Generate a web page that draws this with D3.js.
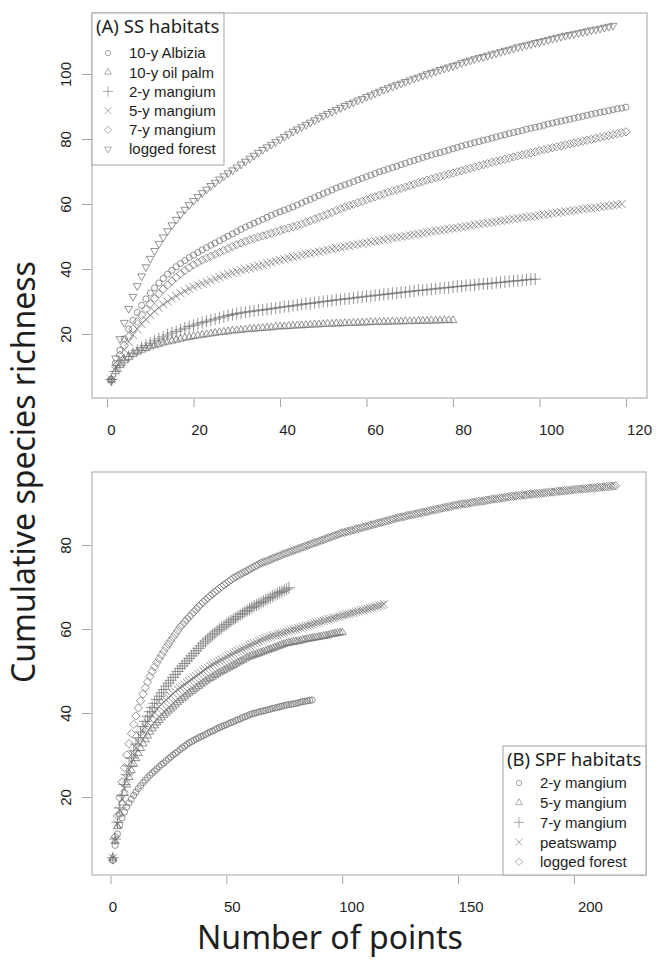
<!DOCTYPE html>
<html>
<head>
<meta charset="utf-8">
<script src="https://cdn.jsdelivr.net/npm/d3@7"></script>
<style>
body { margin: 0; background: #fff; }
</style>
</head>
<body>
<svg id="chart" width="664" height="960"></svg>
<script>
// (A) SS habitats - cumulative species richness, one value per point (x = 1, 2, 3 ...)
var ssLabels = ["10-y Albizia", "10-y oil palm", "2-y mangium", "5-y mangium", "7-y mangium", "logged forest"];

var ssAlbizia = [6,11,15,18.5,21.5,24.2,26.6,28.8,30.8,32.6,34.2,35.7,37.1,38.4,39.6,40.7,41.7,42.6,43.5,44.3,
  45.1,45.9,46.6,47.3,48.0,48.7,49.4,50.1,50.8,51.5,
  52.2,52.9,53.5,54.1,54.7,55.3,55.9,56.5,57.1,57.6,58.1,58.6,59.1,
  59.7,60.3,60.9,61.4,62.0,62.6,63.2,63.7,64.3,64.9,
  65.4,65.9,66.4,66.9,67.4,67.9,68.4,68.9,69.4,69.9,
  70.3,70.8,71.2,71.6,72.1,72.5,73.0,73.4,73.8,74.3,
  74.7,75.1,75.5,75.8,76.2,76.6,77.0,77.4,77.8,78.2,
  78.5,78.9,79.2,79.6,79.9,80.3,80.6,81.0,81.3,81.7,
  82.0,82.3,82.6,83.0,83.3,83.6,83.9,84.2,84.6,84.9,
  85.2,85.5,85.8,86.1,86.4,86.7,87.0,87.3,87.6,87.9,
  88.2,88.4,88.7,89.0,89.3,89.5,89.8];

var ssOilPalm = [6,8.5,10.4,11.8,12.9,13.8,14.5,15.1,15.6,16.1,16.5,16.9,17.3,17.6,17.9,18.2,18.5,18.8,19.0,19.3,
  19.5,19.7,19.9,20.1,20.3,20.5,20.6,20.8,21.0,21.1,
  21.2,21.4,21.5,21.6,21.7,21.8,21.9,22.0,22.2,22.3,
  22.3,22.4,22.5,22.6,22.6,22.7,22.8,22.9,22.9,23.0,
  23.1,23.1,23.2,23.2,23.3,23.3,23.4,23.4,23.5,23.5,
  23.6,23.6,23.7,23.7,23.7,23.8,23.8,23.8,23.9,23.9,
  23.9,24.0,24.0,24.0,24.1,24.1,24.1,24.2,24.2,24.2];

var ssMangium2 = [6,8.5,10.4,11.9,13.1,14.1,15.0,15.8,16.5,17.2,17.9,18.5,19.1,19.7,20.3,20.8,21.3,21.8,22.3,22.7,
  23.1,23.5,23.9,24.3,24.6,25.0,25.3,25.7,26.0,26.3,
  26.5,26.7,26.9,27.1,27.3,27.4,27.6,27.8,28.0,28.2,
  28.4,28.5,28.7,28.9,29.1,29.3,29.4,29.6,29.8,30.0,
  30.1,30.3,30.5,30.6,30.8,30.9,31.1,31.3,31.4,31.6,
  31.7,31.9,32.0,32.2,32.3,32.5,32.6,32.8,32.9,33.1,
  33.2,33.4,33.5,33.6,33.8,33.9,34.1,34.2,34.3,34.5,
  34.6,34.7,34.9,35.0,35.1,35.3,35.4,35.5,35.6,35.8,
  35.9,36.0,36.2,36.3,36.4,36.5,36.7,36.8,36.9];

var ssMangium5 = [6,9.5,12.5,15.2,17.6,19.7,21.5,23.1,24.5,25.8,27.0,28.1,29.1,30.0,30.9,31.7,32.5,33.2,33.9,34.5,
  35.0,35.5,36.0,36.5,37.0,37.5,38.0,38.4,38.8,39.2,
  39.6,39.9,40.3,40.6,41.0,41.3,41.7,42.0,42.4,42.7,43.0,43.4,43.7,44.0,44.3,
  44.6,44.8,45.1,45.3,45.6,45.9,46.1,46.4,46.6,46.9,
  47.1,47.4,47.6,47.8,48.1,48.3,48.6,48.8,49.0,49.3,
  49.5,49.7,49.9,50.2,50.4,50.6,50.8,51.0,51.3,51.5,
  51.7,51.9,52.1,52.3,52.5,52.7,52.9,53.1,53.3,53.6,
  53.8,54.0,54.2,54.4,54.6,54.8,55.0,55.2,55.4,55.6,
  55.8,56.0,56.1,56.3,56.5,56.7,56.9,57.1,57.3,57.5,
  57.7,57.8,58.0,58.2,58.4,58.6,58.7,58.9,59.1,59.3,59.4,59.6,59.8,60.0];

var ssMangium7 = [6,10,13.5,16.5,19.2,21.6,23.8,25.8,27.6,29.3,30.9,32.4,33.8,35.1,36.3,37.4,38.5,39.5,40.4,41.3,
  42.0,42.7,43.3,43.9,44.5,45.1,45.7,46.3,46.9,47.5,
  48.0,48.5,49.0,49.4,49.8,50.2,50.6,51.0,51.4,51.8,52.2,52.6,53.0,53.4,53.8,
  54.3,54.8,55.4,55.9,56.4,56.9,57.4,58.0,58.5,59.0,
  59.5,59.9,60.4,60.8,61.3,61.8,62.2,62.7,63.1,63.6,
  64.0,64.4,64.8,65.2,65.6,66.1,66.5,66.9,67.3,67.7,
  68.1,68.4,68.8,69.2,69.5,69.9,70.3,70.6,71.0,71.4,
  71.7,72.1,72.4,72.8,73.1,73.4,73.8,74.1,74.5,74.8,
  75.1,75.4,75.7,76.0,76.4,76.7,77.0,77.3,77.6,77.9,
  78.2,78.5,78.8,79.0,79.3,79.6,79.9,80.2,80.5,80.8,81.0,81.3,81.6,81.9,82.2];

var ssLogged = [5.5,12.5,18.5,23.5,27.8,31.5,34.8,37.8,40.6,43.2,45.6,47.8,49.8,51.7,53.5,55.2,56.8,58.3,59.7,61.0,
  62.2,63.4,64.5,65.6,66.6,67.6,68.6,69.5,70.4,71.3,
  72.2,73.1,74.0,74.9,75.8,76.7,77.5,78.3,79.1,79.9,80.7,81.5,82.3,83.0,83.7,
  84.4,85.1,85.8,86.5,87.2,87.8,88.4,89.0,89.6,90.2,
  90.8,91.3,91.9,92.4,93.0,93.5,94.1,94.6,95.2,95.7,
  96.2,96.7,97.1,97.6,98.1,98.6,99.0,99.5,100.0,100.4,
  100.8,101.3,101.7,102.1,102.5,102.9,103.4,103.8,104.2,104.6,
  105.0,105.3,105.7,106.1,106.4,106.8,107.2,107.5,107.9,108.3,
  108.6,108.9,109.2,109.6,109.9,110.2,110.5,110.9,111.2,111.5,
  111.8,112.1,112.3,112.6,112.9,113.2,113.5,113.7,114.0,114.3,114.6,114.9];

var ssXTicks = [0, 20, 40, 60, 80, 100, 120];
var ssYTicks = [20, 40, 60, 80, 100];

// (B) SPF habitats
var spfLabels = ["2-y mangium", "5-y mangium", "7-y mangium", "peatswamp", "logged forest"];

var spfMangium2 = [5,8.5,11.2,13.3,15.0,16.4,17.6,18.6,19.5,20.4,21.2,22.0,22.7,23.4,24.0,24.6,25.2,25.7,26.2,26.7,
  27.2,27.7,28.1,28.6,29.1,29.5,30.0,30.4,30.8,31.3,31.7,32.1,32.5,32.9,
  33.2,33.5,33.8,34.1,34.4,34.6,34.9,35.2,35.5,35.7,36.0,36.3,36.5,
  36.8,37.0,37.2,37.5,37.7,37.9,38.2,38.4,38.6,38.9,39.1,39.3,39.6,39.8,
  39.9,40.1,40.2,40.4,40.5,40.6,40.8,40.9,41.1,41.2,41.3,41.5,41.6,41.8,41.9,
  42.0,42.1,42.2,42.3,42.4,42.6,42.7,42.8,42.9,43.0,43.1];

var spfMangium5 = [5.5,9.5,13.0,16.0,18.6,20.9,22.9,24.7,26.3,27.8,29.2,30.4,31.6,32.7,33.7,34.6,35.5,36.3,37.0,37.7,
  38.3,38.9,39.5,40.0,40.5,41.0,41.5,42.0,42.5,43.0,
  43.5,43.9,44.4,44.8,45.2,45.6,46.0,46.4,46.8,47.2,47.6,48.0,
  48.3,48.6,49.0,49.3,49.6,49.9,50.2,50.5,50.8,51.1,51.4,51.7,52.0,52.3,52.6,52.9,53.2,
  53.4,53.6,53.8,54.0,54.2,54.4,54.6,54.8,55.0,55.2,55.4,55.6,55.8,56.0,56.2,56.4,56.6,
  56.7,56.8,56.9,57.0,57.1,57.2,57.4,57.5,57.6,57.7,57.8,57.9,58.0,58.1,58.2,58.3,58.4,58.5,58.7,58.8,58.9,59.0,59.1,59.2];

var spfMangium7 = [5.5,10,14,17.4,20.4,23.0,25.3,27.4,29.3,31.0,32.6,34.1,35.5,36.8,38.0,39.2,40.3,41.3,42.3,43.2,
  44.0,44.8,45.6,46.4,47.1,47.8,48.5,49.2,49.9,50.6,
  51.2,51.8,52.4,53.0,53.6,54.2,54.8,55.4,56.0,56.6,
  57.1,57.6,58.1,58.6,59.0,59.5,59.9,60.3,60.7,61.1,
  61.5,61.9,62.3,62.6,63.0,63.4,63.7,64.1,64.4,64.8,
  65.1,65.4,65.7,66.0,66.3,66.6,66.9,67.2,67.5,67.8,
  68.1,68.4,68.7,68.9,69.2,69.5,69.8];

var spfPeat = [5.5,9.8,13.6,16.8,19.6,22.1,24.4,26.5,28.4,30.1,31.7,33.1,34.4,35.6,36.7,37.7,38.6,39.4,40.2,40.9,
  41.5,42.1,42.6,43.1,43.6,44.1,44.6,45.1,45.6,46.0,46.4,46.8,47.2,47.6,
  48.0,48.4,48.8,49.2,49.6,50.0,50.4,50.8,51.2,51.5,51.8,52.1,52.4,52.7,
  53.0,53.3,53.6,53.9,54.2,54.5,54.8,55.0,55.3,55.6,55.8,56.1,56.3,56.6,56.8,57.1,57.3,57.6,57.8,
  58.0,58.2,58.4,58.5,58.7,58.9,59.0,59.2,59.4,59.5,59.7,59.9,60.0,60.2,60.3,60.5,60.7,60.8,61.0,61.1,61.3,61.5,61.6,61.8,61.9,62.1,62.3,62.4,
  62.6,62.7,62.9,63.0,63.2,63.3,63.5,63.6,63.8,63.9,64.1,64.2,64.4,64.5,64.7,64.8,65.0,65.1,65.3,65.4,65.6,65.7,65.9];

var spfLogged = [5,10.5,15.5,19.8,23.6,27.0,30.0,32.7,35.1,37.3,39.3,41.2,42.9,44.5,46.0,47.4,48.7,49.9,51.0,52.0,
  52.9,53.8,54.7,55.6,56.4,57.2,58.0,58.8,59.6,60.4,
  61.0,61.7,62.3,62.9,63.5,64.1,64.7,65.3,65.9,66.4,66.9,67.4,
  67.9,68.3,68.8,69.2,69.7,70.1,70.5,70.9,71.3,71.7,72.1,
  72.4,72.7,73.0,73.3,73.6,73.9,74.2,74.5,74.8,75.1,75.4,75.7,
  75.9,76.1,76.3,76.5,76.8,77.0,77.2,77.4,77.7,77.9,78.1,78.3,78.5,78.7,78.9,
  79.1,79.3,79.5,79.7,79.9,80.1,80.3,80.5,80.7,80.9,81.1,81.3,81.5,81.7,81.9,82.1,82.3,82.5,82.7,82.9,
  83.0,83.2,83.3,83.5,83.6,83.8,83.9,84.1,84.2,84.4,84.5,84.7,84.8,85.0,85.1,85.3,85.4,85.6,85.7,85.9,86.0,86.2,86.3,86.5,86.6,
  86.7,86.8,87.0,87.1,87.2,87.3,87.4,87.6,87.7,87.8,87.9,88.0,88.2,88.3,88.4,88.5,88.6,88.8,88.9,89.0,89.1,89.2,89.4,89.5,89.6,
  89.7,89.8,89.8,89.9,90.0,90.1,90.2,90.3,90.4,90.4,90.5,90.6,90.7,90.8,90.9,91.0,91.0,91.1,91.2,91.3,91.4,91.5,91.6,91.6,91.7,
  91.8,91.8,91.9,91.9,92.0,92.1,92.1,92.2,92.2,92.3,92.3,92.4,92.5,92.5,92.6,92.6,92.7,92.8,92.8,92.9,92.9,93.0,93.0,93.1,93.2,
  93.2,93.3,93.3,93.4,93.4,93.5,93.5,93.6,93.6,93.7,93.7,93.8,93.8,93.9,93.9,94.0,94.0,94.1];

var spfXTicks = [0, 50, 100, 150, 200];
var spfYTicks = [20, 40, 60, 80];

var markColor = "#6f6f6f";
var frameColor = "#a3a3a3";
var textColor = "#1e1e1e";

var svg = d3.select('#chart');

// R style open symbols
var shapeCircle = { type: d3.symbolCircle, size: 30, rot: 0 };
var shapeUp = { type: d3.symbolTriangle2, size: 44, rot: 0 };
var shapeDown = { type: d3.symbolTriangle2, size: 44, rot: 180 };
var shapePlus = { type: d3.symbolPlus, size: 50, rot: 0 };
var shapeTimes = { type: d3.symbolTimes, size: 44, rot: 0 };
var shapeDiamond = { type: d3.symbolDiamond2, size: 44, rot: 0 };

function DrawPanel(box, xDomain, yDomain, series, shapes, xTicks, yTicks, shiftLabel)
{
    var x = d3.scaleLinear().domain(xDomain).range([box.left, box.right]);
    var y = d3.scaleLinear().domain(yDomain).range([box.bottom, box.top]);

    var panel = svg.append('g');

    panel.append('rect')
    .attr('x', box.left).attr('y', box.top)
    .attr('width', box.right - box.left)
    .attr('height', box.bottom - box.top)
    .style('fill', 'none')
    .style('stroke', frameColor)
    .style('stroke-width', 1);

    series.forEach(function(values, i)
    {
        var sym = d3.symbol().type(shapes[i].type).size(shapes[i].size);
        panel.append('g')
        .selectAll('path')
        .data(values)
        .enter().append('path')
        .attr('d', sym)
        .attr('transform', function(d, k) {
            return "translate(" + x(k + 1) + "," + y(d) + ") rotate(" + shapes[i].rot + ")";
        })
        .style('fill', 'none')
        .style('stroke', markColor)
        .style('stroke-width', 0.75);
    });

    var xAxis = panel.append('g')
    .attr('transform', "translate(0," + (box.bottom + 1) + ")")
    .call(d3.axisBottom(x).tickValues(xTicks).tickSize(8).tickPadding(17));

    var yAxis = panel.append('g')
    .attr('transform', "translate(" + (box.left - 1) + ",0)")
    .call(d3.axisLeft(y).tickValues(yTicks).tickSize(9));

    [xAxis, yAxis].forEach(function(ax)
    {
        ax.select('.domain').remove();
        ax.selectAll('.tick line').style('stroke', frameColor);
        ax.selectAll('.tick text')
        .style('font-family', '"Liberation Sans", Arial, sans-serif')
        .style('font-size', '15px')
        .style('fill', textColor);
    });

    xAxis.selectAll('.tick text')
    .attr('dx', function(d) { return shiftLabel(d); });

    yAxis.selectAll('.tick text')
    .attr('x', 0).attr('y', -20).attr('dy', 0)
    .attr('transform', 'rotate(-90)')
    .style('text-anchor', 'middle');
}

function DrawLegend(box, title, labels, shapes)
{
    var legend = svg.append('g');

    legend.append('rect')
    .attr('x', box.left).attr('y', box.top)
    .attr('width', box.width).attr('height', box.height)
    .style('fill', '#fff')
    .style('stroke', frameColor)
    .style('stroke-width', 1);

    legend.append('text')
    .attr('x', box.left + 4)
    .attr('y', box.top + 20)
    .style('font-family', '"Noto Sans", "Open Sans", sans-serif')
    .style('font-size', '18.5px')
    .style('fill', textColor)
    .text(title);

    labels.forEach(function(label, i)
    {
        var cy = box.top + box.first + i * box.step;
        legend.append('path')
        .attr('d', d3.symbol().type(shapes[i].type).size(shapes[i].size * 0.75))
        .attr('transform', "translate(" + (box.left + 16) + "," + cy + ") rotate(" + shapes[i].rot + ")")
        .style('fill', 'none')
        .style('stroke', '#8a8a8a')
        .style('stroke-width', 0.7);

        legend.append('text')
        .attr('x', box.left + 37)
        .attr('y', cy)
        .attr('dy', '0.36em')
        .style('font-family', '"Liberation Sans", Arial, sans-serif')
        .style('font-size', '15px')
        .style('fill', textColor)
        .text(label);
    });
}

// panel A
DrawPanel({ left: 92, right: 647, top: 13, bottom: 398 },
    [-3.47, 124.86], [0.31, 118.77],
    [ssAlbizia, ssOilPalm, ssMangium2, ssMangium5, ssMangium7, ssLogged],
    [shapeCircle, shapeUp, shapePlus, shapeTimes, shapeDiamond, shapeDown],
    ssXTicks, ssYTicks,
    function(d) { return 4 + d * 0.075; });

DrawLegend({ left: 92, top: 13, width: 132, height: 152, first: 40, step: 19.2 },
    "(A) SS habitats", ssLabels,
    [shapeCircle, shapeUp, shapePlus, shapeTimes, shapeDiamond, shapeDown]);

// panel B
DrawPanel({ left: 92, right: 646, top: 472, bottom: 875 },
    [-7.98, 231.1], [1.43, 97.38],
    [spfMangium2, spfMangium5, spfMangium7, spfPeat, spfLogged],
    [shapeCircle, shapeUp, shapePlus, shapeTimes, shapeDiamond],
    spfXTicks, spfYTicks,
    function(d) { return 2 + d * 0.07; });

DrawLegend({ left: 503, top: 746, width: 143, height: 129, first: 37, step: 19.7 },
    "(B) SPF habitats", spfLabels,
    [shapeCircle, shapeUp, shapePlus, shapeTimes, shapeDiamond]);

// axis titles
svg.append('text')
.attr('transform', 'translate(35,472) rotate(-90)')
.style('text-anchor', 'middle')
.style('font-family', '"Noto Sans", "Open Sans", sans-serif')
.style('font-size', '32px')
.style('fill', textColor)
.text('Cumulative species richness');

svg.append('text')
.attr('x', 330).attr('y', 949)
.style('text-anchor', 'middle')
.style('font-family', '"Noto Sans", "Open Sans", sans-serif')
.style('font-size', '32px')
.style('fill', textColor)
.text('Number of points');
</script>
</body>
</html>
